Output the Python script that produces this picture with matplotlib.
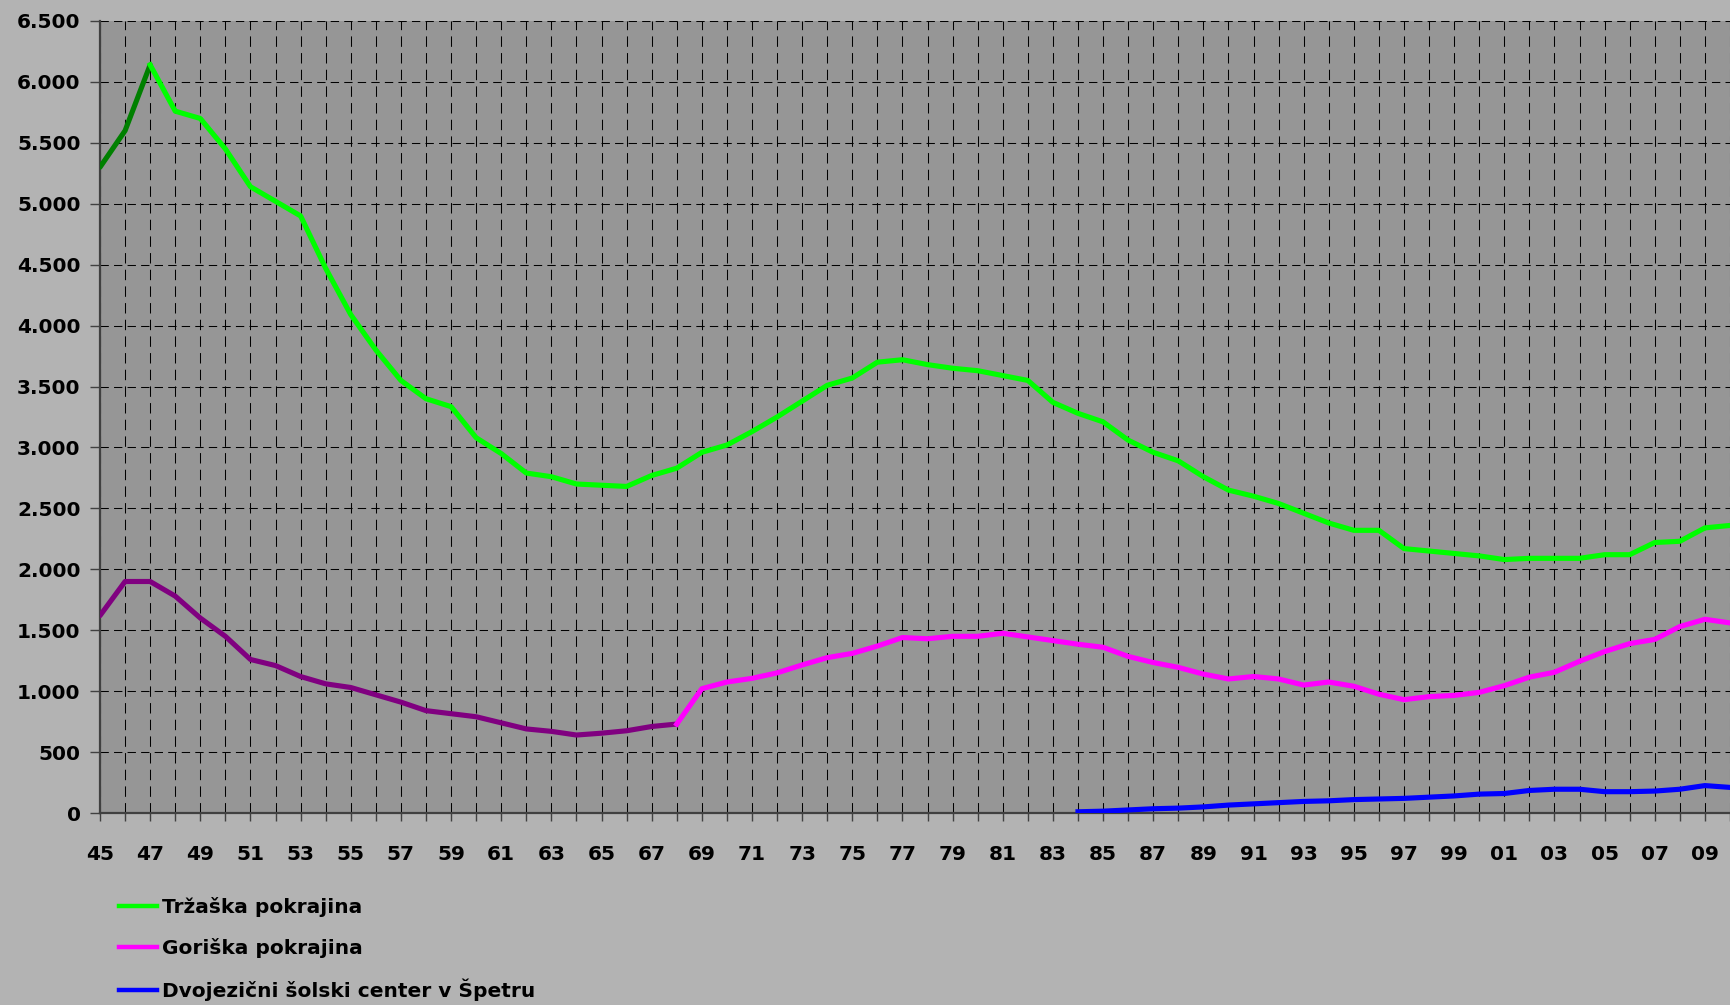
import matplotlib
matplotlib.use("Agg")
import matplotlib.pyplot as plt
from matplotlib.ticker import FixedLocator, FuncFormatter, MultipleLocator

# School enrolment by area, 1945-2010
years = list(range(1945, 2011))

trzaska = [5300, 5600, 6140, 5760, 5700, 5450, 5140, 5020, 4900, 4470,
           4090, 3800, 3550, 3400, 3335, 3080, 2950, 2790, 2760, 2700,
           2690, 2680, 2770, 2830, 2960, 3020, 3130, 3250, 3380, 3510,
           3570, 3700, 3720, 3680, 3650, 3630, 3590, 3550, 3370, 3280,
           3210, 3060, 2960, 2890, 2760, 2650, 2600, 2540, 2460, 2380,
           2320, 2320, 2170, 2150, 2130, 2110, 2080, 2090, 2090, 2090,
           2120, 2120, 2220, 2230, 2340, 2360]

goriska = [1620, 1900, 1900, 1780, 1600, 1450, 1260, 1210, 1120, 1060,
           1030, 970, 910, 840, 815, 790, 740, 690, 670, 640,
           655, 675, 710, 730, 1020, 1075, 1105, 1150, 1215, 1275,
           1310, 1370, 1440, 1430, 1450, 1450, 1475, 1445, 1415, 1385,
           1360, 1285, 1235, 1195, 1140, 1100, 1120, 1100, 1050, 1075,
           1040, 975, 930, 955, 965, 990, 1045, 1115, 1155, 1245,
           1325, 1390, 1425, 1530, 1590, 1560]

speter_years = list(range(1984, 2011))
speter = [10, 15, 25, 35, 40, 50, 65, 75, 85, 95, 100, 110, 115, 120,
          130, 140, 155, 160, 185, 195, 195, 175, 175, 180, 195, 225, 210]

labels = ["Tržaška pokrajina", "Goriška pokrajina",
          "Dvojezični šolski center v Špetru"]

y_ticks = list(range(0, 7000, 500))

# Year where each early segment switches to its bright colour
trz_split = 1947
gor_split = 1968

FIG_BG = "#b3b3b3"
AX_BG = "#969696"
FONT = "DejaVu Sans"

fig = plt.figure(figsize=(17.31, 10.05), dpi=100, facecolor=FIG_BG)
ax = fig.add_axes([100 / 1731, 1 - 813 / 1005, 1630 / 1731, 792 / 1005])
ax.set_facecolor(AX_BG)

lw = 3.7
it = years.index(trz_split) + 1
ig = years.index(gor_split) + 1
ax.plot(years[:it], trzaska[:it], color="#008000", lw=lw, solid_capstyle="round", zorder=3)
l_trz, = ax.plot(years[it - 1:], trzaska[it - 1:], color="#00ff00", lw=lw, zorder=3)
ax.plot(years[:ig], goriska[:ig], color="#800080", lw=lw, solid_capstyle="round", zorder=3)
l_gor, = ax.plot(years[ig - 1:], goriska[ig - 1:], color="#ff00ff", lw=lw, zorder=3)
l_spe, = ax.plot(speter_years, speter, color="#0000ff", lw=lw, zorder=3)

ax.set_xlim(1945, 2010)
ax.set_ylim(0, 6500)

ax.xaxis.set_major_locator(FixedLocator(list(range(1945, 2011, 2))))
ax.xaxis.set_minor_locator(MultipleLocator(1))
ax.xaxis.set_major_formatter(FuncFormatter(lambda v, p: f"{int(round(v)) % 100:02d}"))
ax.yaxis.set_major_locator(FixedLocator(y_ticks))
ax.yaxis.set_major_formatter(FuncFormatter(lambda v, p: f"{int(v):,}".replace(",", ".")))

ax.grid(True, which="both", axis="x", color="black", lw=0.75, ls=(0, (10, 6)))
ax.grid(True, which="major", axis="y", color="black", lw=0.75, ls=(0, (8, 5)))
ax.set_axisbelow(True)

for s in ("top", "right"):
    ax.spines[s].set_visible(False)
for s in ("left", "bottom"):
    ax.spines[s].set_color("#404040")
    ax.spines[s].set_linewidth(1.6)

ax.tick_params(axis="x", which="both", length=6, width=1, color="#404040",
               pad=17, labelsize=14.5)
ax.tick_params(axis="y", which="major", length=7, width=1, color="#404040",
               pad=7, labelsize=14.5)
for t in ax.get_xticklabels() + ax.get_yticklabels():
    t.set_fontfamily(FONT)
    t.set_fontweight("bold")

leg = fig.legend([l_trz, l_gor, l_spe], labels, loc="upper left",
                 bbox_to_anchor=(0.0585, 1 - 879 / 1005), frameon=False,
                 handlelength=1.85, handletextpad=0.25, labelspacing=1.03,
                 prop={"family": FONT, "weight": "bold", "size": 14.5})
for h in leg.legend_handles:
    h.set_linewidth(3.2)

fig.savefig("out.png", dpi=100, facecolor=FIG_BG)
